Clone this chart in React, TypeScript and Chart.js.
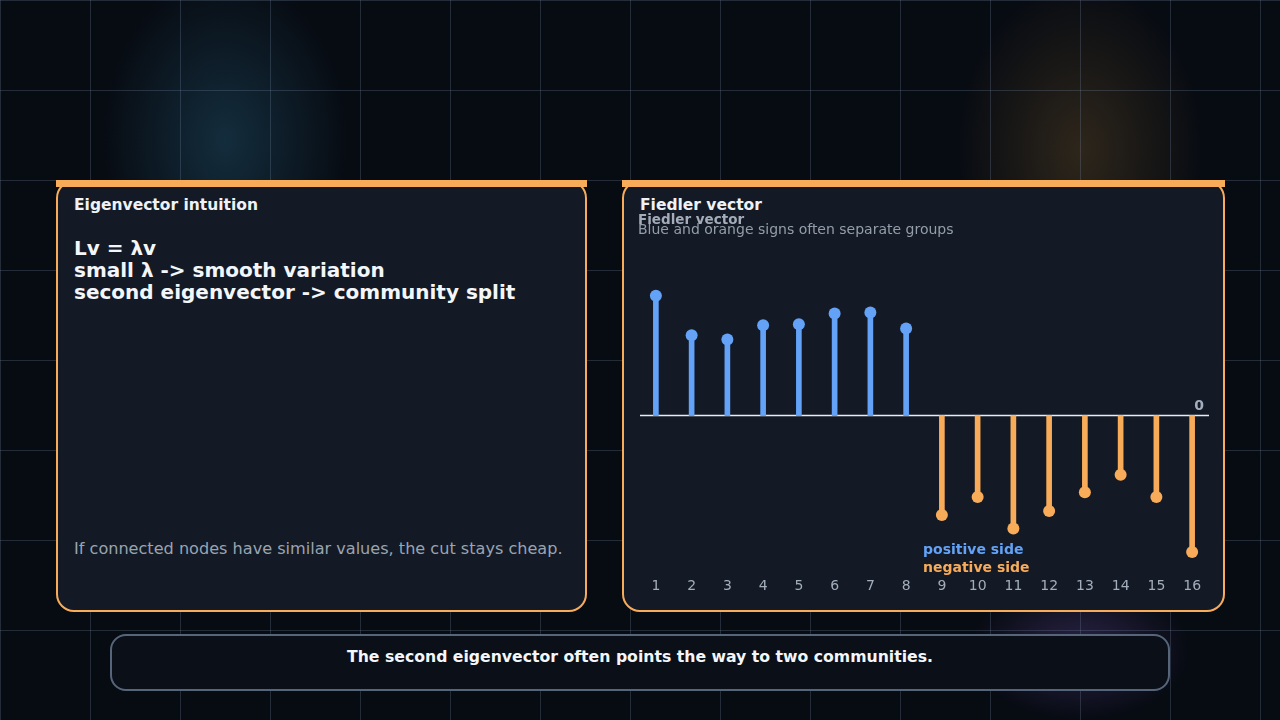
import React, { useEffect, useRef } from "react";
import { Chart, registerables } from "chart.js";

Chart.register(...registerables);

const nodeLabels = ["1", "2", "3", "4", "5", "6", "7", "8", "9", "10", "11", "12", "13", "14", "15", "16"];
const fiedlerValues = [0.316, 0.212, 0.201, 0.238, 0.241, 0.269, 0.272, 0.23, -0.262, -0.215, -0.298, -0.252, -0.202, -0.156, -0.215, -0.36];
const legendLabels = ["positive side", "negative side"];
const zeroLabel = "0";
const chartTitle = "Fiedler vector";
const chartSubtitle = "Blue and orange signs often separate groups";
const yMin = -0.4;
const yMax = 0.45;

const POS = "#63a2f7";
const NEG = "#f8ac5a";
const FONT = "'DejaVu Sans', Verdana, sans-serif";

const decorPlugin = {
  id: "stemDecor",
  beforeDatasetsDraw(chart: any) {
    const { ctx, chartArea, scales } = chart;
    const y0 = scales.y.getPixelForValue(0);
    ctx.save();
    ctx.strokeStyle = "#e8edf3";
    ctx.lineWidth = 1.5;
    ctx.beginPath();
    ctx.moveTo(chartArea.left + 2, y0);
    ctx.lineTo(chartArea.right - 1, y0);
    ctx.stroke();
    ctx.restore();
  },
  afterDatasetsDraw(chart: any) {
    const { ctx, chartArea, scales } = chart;
    const y0 = scales.y.getPixelForValue(0);
    ctx.save();
    ctx.font = `bold 14px ${FONT}`;
    ctx.fillStyle = "#a3adbb";
    ctx.textAlign = "right";
    ctx.textBaseline = "bottom";
    ctx.fillText(zeroLabel, chartArea.right - 6, y0 - 2);
    const cx = (chartArea.left + chartArea.right) / 2 - 1;
    ctx.textAlign = "left";
    ctx.textBaseline = "middle";
    ctx.fillStyle = POS;
    ctx.fillText(legendLabels[0], cx, chartArea.bottom - 17);
    ctx.fillStyle = NEG;
    ctx.fillText(legendLabels[1], cx, chartArea.bottom + 1);
    ctx.restore();
  },
};

function FiedlerChart() {
  const ref = useRef<HTMLCanvasElement | null>(null);
  useEffect(() => {
    if (!ref.current) return;
    const colors = fiedlerValues.map((v) => (v >= 0 ? POS : NEG));
    const chart = new Chart(ref.current, {
      type: "bar",
      data: {
        labels: nodeLabels,
        datasets: [
          {
            type: "line",
            data: fiedlerValues,
            showLine: false,
            pointRadius: 6,
            pointHoverRadius: 6,
            pointBackgroundColor: colors,
            pointBorderWidth: 0,
            order: 0,
          } as any,
          {
            type: "bar",
            data: fiedlerValues,
            backgroundColor: colors,
            barThickness: 5,
            borderWidth: 0,
            order: 1,
          },
        ],
      },
      options: {
        animation: false,
        responsive: true,
        maintainAspectRatio: false,
        layout: { autoPadding: false, padding: { left: 0, right: 13, top: 0, bottom: 0 } },
        plugins: {
          legend: { display: false },
          tooltip: { enabled: false },
          title: {
            display: true,
            text: chartTitle,
            align: "start",
            color: "#a3acb8",
            font: { family: FONT, size: 13.5, weight: "bold" },
            padding: { top: 4, bottom: -6 },
          },
          subtitle: {
            display: true,
            text: chartSubtitle,
            align: "start",
            color: "#949eab",
            font: { family: FONT, size: 14 },
            padding: { top: 0, bottom: 6 },
          },
        },
        scales: {
          x: {
            grid: { display: false },
            border: { display: false },
            ticks: { color: "#a3adbb", font: { family: FONT, size: 14 }, padding: 3 },
            afterFit: (scale: any) => {
              scale.paddingLeft = 0;
              scale.paddingRight = 0;
            },
          },
          y: {
            display: false,
            min: yMin,
            max: yMax,
          },
        },
      },
      plugins: [decorPlugin],
    });
    return () => chart.destroy();
  }, []);
  return (
    <div style={{ position: "absolute", left: 638, top: 208, width: 585, height: 390 }}>
      <canvas ref={ref} />
    </div>
  );
}

const panelStyle = (left: number, width: number): React.CSSProperties => ({
  position: "absolute",
  left,
  top: 180,
  width,
  height: 432,
  boxSizing: "border-box",
  border: `2px solid ${NEG}`,
  borderRadius: 18,
  background: "#131a25",
});

const bar: React.CSSProperties = {
  position: "absolute",
  left: -2,
  right: -2,
  top: -2,
  height: 7,
  background: NEG,
};

export default function App() {
  return (
    <div
      style={{
        position: "fixed",
        left: 0,
        top: 0,
        width: 1280,
        height: 720,
        overflow: "hidden",
        fontFamily: FONT,
        background: [
          "repeating-linear-gradient(90deg, rgba(120,140,168,0.26) 0px, rgba(120,140,168,0.26) 1px, transparent 1px, transparent 90px)",
          "repeating-linear-gradient(180deg, rgba(120,140,168,0.26) 0px, rgba(120,140,168,0.26) 1px, transparent 1px, transparent 90px)",
          "radial-gradient(ellipse 125px 170px at 225px 140px, rgba(40,100,130,0.38), rgba(40,100,130,0) 100%)",
          "radial-gradient(ellipse 125px 170px at 1080px 150px, rgba(150,110,50,0.27), rgba(150,110,50,0) 100%)",
          "radial-gradient(ellipse 110px 70px at 1080px 650px, rgba(110,80,170,0.35), rgba(110,80,170,0) 100%)",
          "#070b12",
        ].join(", "),
      }}
    >
      <div style={panelStyle(56, 531)}>
        <div style={bar} />
        <div style={{ position: "absolute", left: 16, top: 13, fontSize: 15.5, lineHeight: "20px", fontWeight: "bold", color: "#eef2f7" }}>
          Eigenvector intuition
        </div>
        <div style={{ position: "absolute", left: 16, top: 55, fontSize: 20, lineHeight: "22px", fontWeight: "bold", color: "#f3f6fa", whiteSpace: "nowrap" }}>
          <div>Lv = λv</div>
          <div>small λ -&gt; smooth variation</div>
          <div>second eigenvector -&gt; community split</div>
        </div>
        <div style={{ position: "absolute", left: 16, top: 357, fontSize: 16.1, lineHeight: "20px", color: "#9aa4b1", whiteSpace: "nowrap" }}>
          If connected nodes have similar values, the cut stays cheap.
        </div>
      </div>
      <div style={panelStyle(622, 603)}>
        <div style={bar} />
        <div style={{ position: "absolute", left: 16, top: 13, fontSize: 15.5, lineHeight: "20px", fontWeight: "bold", color: "#eef2f7" }}>
          Fiedler vector
        </div>
      </div>
      <FiedlerChart />
      <div
        style={{
          position: "absolute",
          left: 110,
          top: 634,
          width: 1060,
          height: 57,
          boxSizing: "border-box",
          border: "2px solid #56657a",
          borderRadius: 16,
          background: "#0a0f18",
        }}
      >
        <div style={{ position: "absolute", left: 0, right: 0, top: 11, textAlign: "center", fontSize: 15.7, lineHeight: "20px", fontWeight: "bold", color: "#f3f6fa" }}>
          The second eigenvector often points the way to two communities.
        </div>
      </div>
    </div>
  );
}
